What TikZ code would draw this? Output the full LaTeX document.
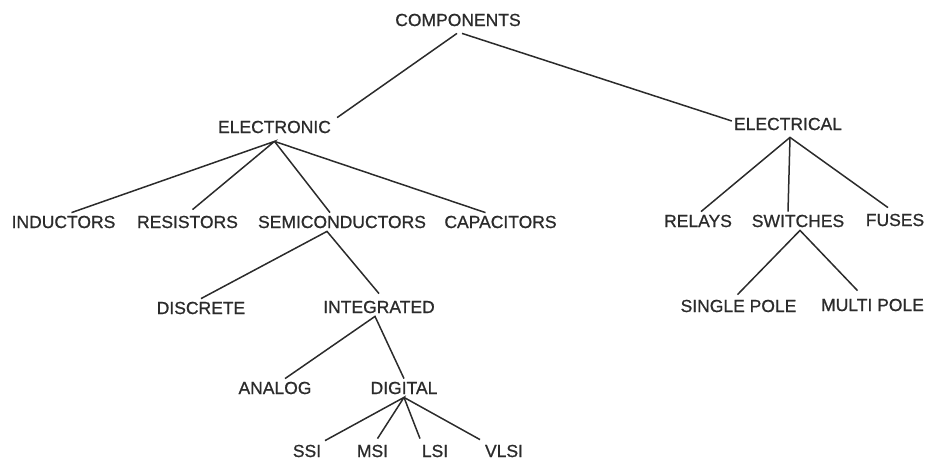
\documentclass[tikz,border=0pt]{standalone}
\usepackage{fontspec}
\setmainfont{Liberation Sans}
\newfontface\lblfont{Liberation Sans}[FakeBold=0.8]
\usepackage{tikz}
\usetikzlibrary{positioning}
\definecolor{ink}{HTML}{2B2B2B}

\begin{document}
\begin{tikzpicture}[
  x=1pt, y=-1pt,
  lbl/.style={font=\lblfont\fontsize{17.5}{20}\selectfont, text=ink, inner xsep=0pt, inner ysep=3pt},
  link/.style={draw=ink, line width=1.5pt},
]
\useasboundingbox (0,0) rectangle (926,460);

% top levels
\node[lbl] (cmp) at (458, 20) {COMPONENTS};
\node[lbl] (eln) at (274.5, 127) {ELECTRONIC};
\node[lbl] (elc) at (788, 124) {ELECTRICAL};

% electronic branch
\node[lbl] (ind) at (63.5, 222) {INDUCTORS};
\node[lbl] (res) at (187.5, 222) {RESISTORS};
\node[lbl] (sem) at (342, 222) {SEMICONDUCTORS};
\node[lbl] (cap) at (500.5, 222) {CAPACITORS};

\node[lbl] (dis) at (201, 308) {DISCRETE};
\node[lbl] (itg) at (379, 307) {INTEGRATED};

\node[lbl] (ana) at (275, 388) {ANALOG};
\node[lbl] (dig) at (404, 388) {DIGITAL};

\node[lbl] (ssi) at (307, 451) {SSI};
\node[lbl] (msi) at (372.5, 451) {MSI};
\node[lbl] (lsi) at (435, 451) {LSI};
\node[lbl] (vls) at (504, 451) {VLSI};

% electrical branch
\node[lbl] (rel) at (698, 221) {RELAYS};
\node[lbl] (swi) at (798, 221) {SWITCHES};
\node[lbl] (fus) at (895, 220) {FUSES};

\node[lbl] (sgl) at (738.5, 306) {SINGLE POLE};
\node[lbl] (mlt) at (872.5, 305) {MULTI POLE};

% connectors
\draw[link] ([xshift=-1pt,yshift=-4pt]cmp.south) -- ([xshift=6pt]eln.north east);
\draw[link] ([xshift=4pt,yshift=-4pt]cmp.south) -- ([xshift=-2pt,yshift=3pt]elc.west);

\draw[link] ([xshift=8pt]ind.north) -- ([yshift=-5pt]eln.south) -- ([xshift=5pt,yshift=3pt]res.north);
\draw[link] ([yshift=-5pt]eln.south) -- ([xshift=-12pt]sem.north);
\draw[link] ([yshift=-5pt]eln.south) -- ([xshift=-15pt]cap.north);

\draw[link] (dis.north) -- ([xshift=-15pt]sem.south) -- ([yshift=4pt]itg.north);
\draw[link] ([xshift=10pt]ana.north) -- ([xshift=-4pt]itg.south) -- (dig.north);

\draw[link] ([xshift=18pt,yshift=1pt]ssi.north) -- (dig.south) -- ([xshift=5pt,yshift=3pt]msi.north);
\draw[link] (dig.south) -- ([xshift=-15pt,yshift=3pt]lsi.north);
\draw[link] (dig.south) -- ([xshift=-24pt,yshift=2pt]vls.north);

\draw[link] ([xshift=3pt]rel.north) -- ([xshift=2pt,yshift=-4pt]elc.south) -- ([xshift=-7pt,yshift=3pt]fus.north);
\draw[link] ([xshift=2pt,yshift=-4pt]elc.south) -- ([xshift=-10pt]swi.north);

\draw[link] ([xshift=-1pt,yshift=2pt]sgl.north) -- ([xshift=2pt]swi.south) -- ([xshift=-15pt,yshift=5pt]mlt.north);

\end{tikzpicture}
\end{document}
